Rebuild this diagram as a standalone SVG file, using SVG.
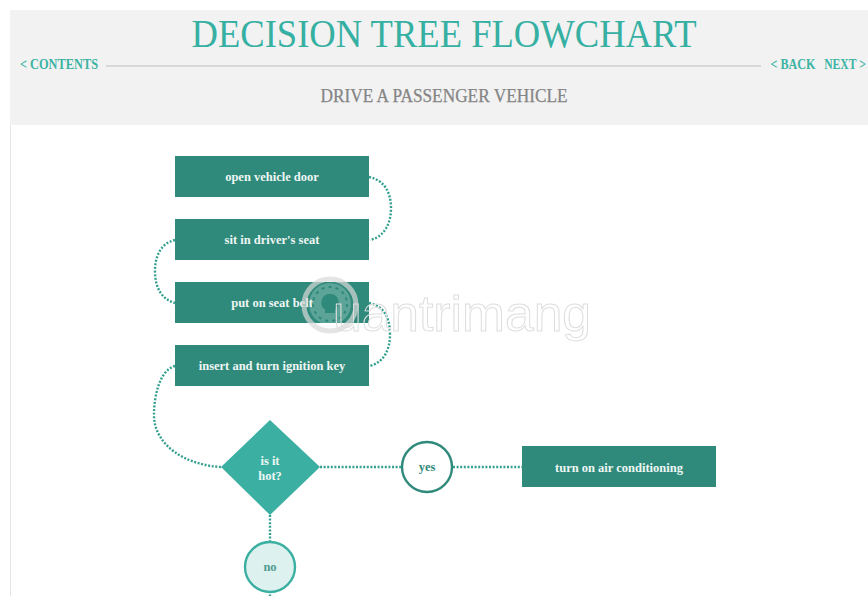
<svg xmlns="http://www.w3.org/2000/svg" width="868" height="596" viewBox="0 0 868 596">
<style>
text{font-family:"Liberation Serif","DejaVu Serif",serif;text-anchor:middle}
.box{fill:#2f8a7b}
.lbl{fill:#eef6f4;font-size:12.5px;font-weight:bold}
.con{fill:none;stroke:#35a08f;stroke-width:2.4;stroke-dasharray:2 1.6}
.nav{fill:#3bb3a3;font-size:14.5px;font-weight:bold}
</style>
<rect width="868" height="596" fill="#fff"/>
<line x1="10.5" y1="125" x2="10.5" y2="596" stroke="#e4e4e4"/>
<g id="header">
<rect x="10" y="10" width="858" height="115" fill="#f2f2f2"/>
<text x="444" y="47" font-size="39" fill="#35b0a2" textLength="505" lengthAdjust="spacingAndGlyphs">DECISION TREE FLOWCHART</text>
<line x1="106" y1="66" x2="761" y2="66" stroke="#cfcfcf" stroke-width="1.5"/>
<text class="nav" x="59" y="69" textLength="78" lengthAdjust="spacingAndGlyphs">&lt; CONTENTS</text>
<text class="nav" x="793" y="69" textLength="45" lengthAdjust="spacingAndGlyphs">&lt; BACK</text>
<text class="nav" transform="translate(845 69) scale(0.8 1)">NEXT &gt;</text>
<text x="444" y="102" font-size="18" fill="#858585" stroke="#858585" stroke-width="0.25" textLength="247" lengthAdjust="spacingAndGlyphs">DRIVE A PASSENGER VEHICLE</text>
</g>
<g id="connectors">
<path class="con" d="M369 177C384 180 391 192 391 208C391 224 384 237 370 240"/>
<path class="con" d="M175 240C161 243 155 256 155 271C155 287 161 299 175 303"/>
<path class="con" d="M369 303C384 306 390 318 390 334C390 350 384 362 370 366"/>
<path class="con" d="M175 366C160 370 154 395 154 415C154 445 185 465 221 467"/>
<path class="con" d="M320 467H401"/>
<path class="con" d="M453 467H522"/>
<path class="con" d="M270 515V542"/>
<path class="con" d="M270 591V596"/>
</g>
<g id="n1"><rect class="box" x="175" y="156" width="194" height="41"/><text class="lbl" x="272" y="181">open vehicle door</text></g>
<g id="n2"><rect class="box" x="175" y="219" width="194" height="41"/><text class="lbl" x="272" y="244">sit in driver's seat</text></g>
<g id="n3"><rect class="box" x="175" y="282" width="194" height="41"/><text class="lbl" x="272" y="307">put on seat belt</text></g>
<g id="n4"><rect class="box" x="175" y="345" width="194" height="41"/><text class="lbl" x="272" y="370">insert and turn ignition key</text></g>
<g id="decision"><polygon points="270,420 320,467 270,515 221,467" fill="#3bb0a2"/><text class="lbl" x="270" y="465">is it</text><text class="lbl" x="270" y="480">hot?</text></g>
<g id="yes"><circle cx="427" cy="467" r="25" fill="#fff" stroke="#2f8a7b" stroke-width="2.4"/><text x="427" y="471" font-size="12.5" font-weight="bold" fill="#2f8a7b">yes</text></g>
<g id="no"><circle cx="270" cy="567" r="25" fill="#ddf2ef" stroke="#3bb0a2" stroke-width="2.4"/><text x="270" y="571" font-size="12.5" font-weight="bold" fill="#4f9a8e">no</text></g>
<g id="n5"><rect class="box" x="522" y="446" width="194" height="41"/><text class="lbl" x="619" y="472">turn on air conditioning</text></g>
<g id="watermark" fill="none">
<circle cx="330" cy="305" r="26" stroke="#d9d9d9" stroke-width="5" opacity="0.7"/>
<circle cx="330" cy="304" r="21" fill="#fff" fill-opacity="0.22"/>
<circle cx="330" cy="304" r="17" stroke="#2f8a7b" stroke-width="2" stroke-dasharray="3 4.1"/>
<path d="M330 294a8.500 8.500 0 0 1 5 15.500v3.500h-10v-3.500a8.500 8.500 0 0 1 5-15.500z" fill="#2f8a7b"/>
<text x="462" y="331" font-size="50" fill="none" stroke="#dedede" stroke-width="1" textLength="258" lengthAdjust="spacingAndGlyphs" style="font-family:'Liberation Sans',sans-serif">uantrimang</text>
</g>
</svg>
